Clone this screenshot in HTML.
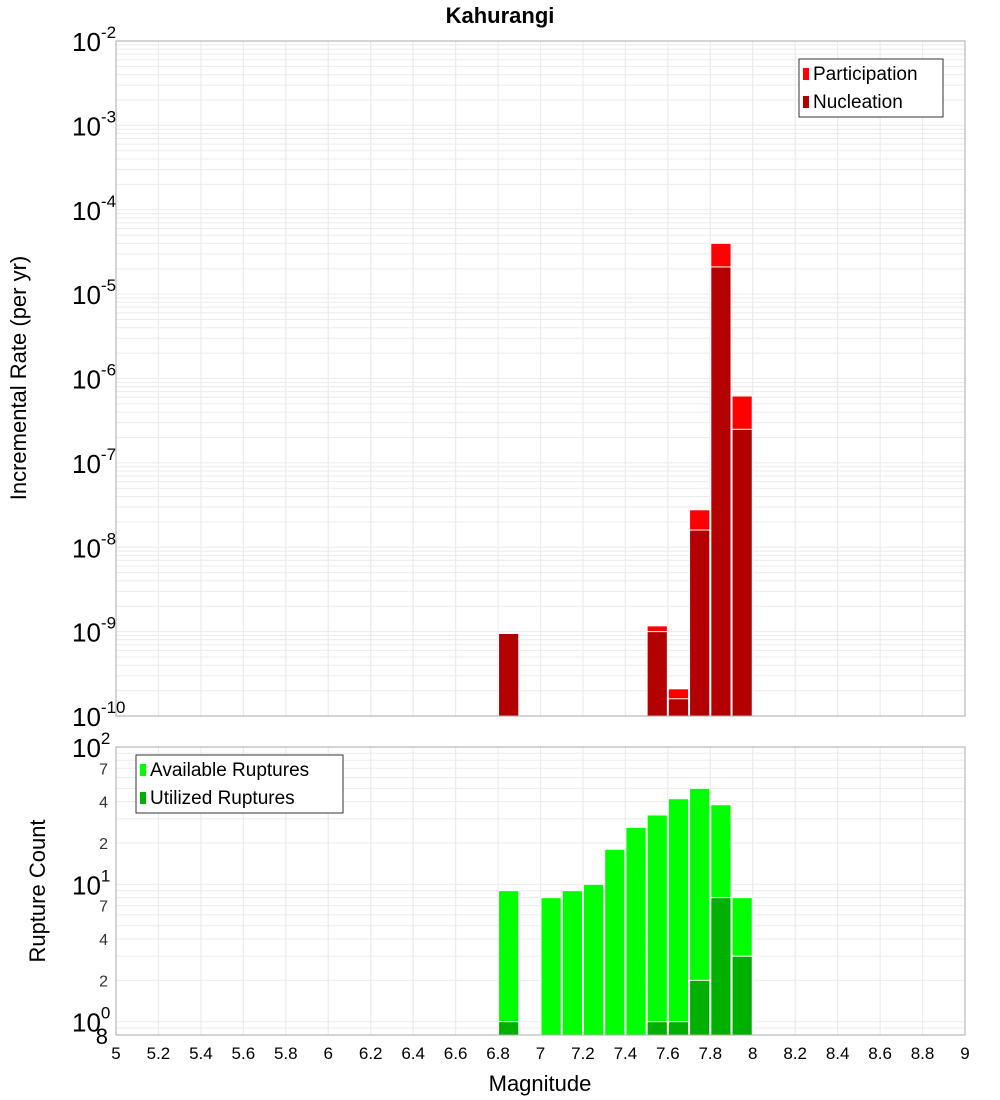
<!DOCTYPE html>
<html><head><meta charset="utf-8"><style>
body{margin:0;background:#fff}
svg{display:block;font-family:"Liberation Sans","DejaVu Sans",sans-serif}
</style></head><body>
<svg id="c" width="1000" height="1100" xmlns="http://www.w3.org/2000/svg">
<text x="500" y="23" text-anchor="middle" font-weight="bold" font-size="22">Kahurangi</text>
<g id="top"></g>
<g id="bot"></g>
<text transform="translate(26,378) rotate(-90)" text-anchor="middle" font-size="22">Incremental Rate (per yr)</text>
<text transform="translate(45,891) rotate(-90)" text-anchor="middle" font-size="22">Rupture Count</text>
<text x="540" y="1091" text-anchor="middle" font-size="22">Magnitude</text>
</svg>
<script>
const mags=[6.85,7.55,7.65,7.75,7.85,7.95];
const participation=[9.6e-10,1.17e-9,2.1e-10,2.78e-8,4.0e-5,6.2e-7];
const nucleation=[9.5e-10,1.0e-9,1.6e-10,1.6e-8,2.1e-5,2.5e-7];
const countMags=[6.85,7.05,7.15,7.25,7.35,7.45,7.55,7.65,7.75,7.85,7.95];
const available=[9,8,9,10,18,26,32,42,50,38,8];
const utilized=[1,0,0,0,0,0,1,1,2,8,3];
const xTicks=[5,5.2,5.4,5.6,5.8,6,6.2,6.4,6.6,6.8,7,7.2,7.4,7.6,7.8,8,8.2,8.4,8.6,8.8,9];
const topExps=[-2,-3,-4,-5,-6,-7,-8,-9,-10];
const NS="http://www.w3.org/2000/svg";
const svg=document.getElementById('c');
function el(tag,attrs,parent,txt){const e=document.createElementNS(NS,tag);for(const k in attrs)e.setAttribute(k,attrs[k]);if(txt!==undefined)e.textContent=txt;(parent||svg).appendChild(e);return e;}
const X0=116,X1=965;
const xs=m=>X0+(m-5)/4*(X1-X0);
const T0=41,T1=716;
const yTop=v=>T0+(-2-Math.log10(v))*(T1-T0)/8;
const B0=747,B1=1035;
const bDec=(B1-B0)/(2-Math.log10(0.8));
const yBot=v=>B0+(2-Math.log10(v))*bDec;
const gTop=document.getElementById('top'),gBot=document.getElementById('bot');
function grid(g,y0,y1,yf,lo,hi){
 for(let d=lo;d<hi;d++)for(let k=1;k<10;k++){const v=k*Math.pow(10,d);const y=yf(v);if(y<y0-0.5||y>y1+0.5)continue;
  const l=el('line',{x1:X0,x2:X1,y1:y,y2:y,stroke:'#ebebeb','stroke-width':1},g);
  
  }
 xTicks.forEach(t=>{const l=el('line',{x1:xs(t),x2:xs(t),y1:y0,y2:y1,stroke:'#ebebeb','stroke-width':1},g);
  
  });
}
grid(gTop,T0,T1,yTop,-10,-2);grid(gTop,T0,T1,yTop,-2,-1);
grid(gBot,B0,B1,yBot,-1,2);grid(gBot,B0,B1,yBot,2,3);
const bw=(X1-X0)/40;
function bar(g,m,v,yf,base,fill,name){const y=yf(v);const r=el('rect',{x:xs(m)-bw/2+0.5,y:y,width:bw-1,height:base-y,fill:fill,stroke:'#fff','stroke-width':1},g);
 
 }
mags.forEach((m,i)=>{bar(gTop,m,participation[i],yTop,T1,'#ff0000','bar-participation');});
mags.forEach((m,i)=>{bar(gTop,m,nucleation[i],yTop,T1,'#b30000','bar-nucleation');});
countMags.forEach((m,i)=>{if(available[i]>0)bar(gBot,m,available[i],yBot,B1,'#00ff00','bar-available');});
countMags.forEach((m,i)=>{if(utilized[i]>0)bar(gBot,m,utilized[i],yBot,B1,'#00b000','bar-utilized');});
el('rect',{x:X0,y:T0,width:X1-X0,height:T1-T0,fill:'none',stroke:'#aaa','stroke-width':1},gTop);
el('rect',{x:X0,y:B0,width:X1-X0,height:B1-B0,fill:'none',stroke:'#aaa','stroke-width':1},gBot);
function pow10(g,x,y,e,name){const t=el('text',{x:x,y:y,'font-size':26,'text-anchor':'start'},g);
 
 
 t.appendChild(document.createTextNode('10'));
 const s=document.createElementNS(NS,'tspan');s.setAttribute('dy','-13');s.setAttribute('font-size','17');s.textContent=e;t.appendChild(s);}
topExps.forEach(e=>{pow10(gTop,e<=-10?72:72,yTop(Math.pow(10,e))+10,e,'y-tick-label');});
[2,1,0].forEach(e=>{pow10(gBot,e===0?72:72,yBot(Math.pow(10,e))+10,e,'y-tick-label');});
[[70,'7'],[40,'4'],[20,'2'],[7,'7'],[4,'4'],[2,'2'],[0.8,'8']].forEach(([v,s])=>{
 const t=el('text',{x:v===0.8?108:108,y:yBot(v)+(v===0.8?9:6),'font-size':v===0.8?22:16,'text-anchor':'end',fill:v===0.8?'#000':'#333'},gBot,s);
 
 });
xTicks.forEach(t=>{const tx=el('text',{x:xs(t),y:1059,'font-size':17,'text-anchor':'middle'},svg,String(t));
 
 });
function legend(x,y,w,items){const g=el('g',{});
 
 
 el('rect',{x:x,y:y,width:w,height:58,fill:'#fff',stroke:'#333','stroke-width':1},g);
 items.forEach(([c,l],i)=>{el('rect',{x:x+4,y:y+9+i*28,width:6,height:12,fill:c},g);
  const t=el('text',{x:x+14,y:y+21+i*28,'font-size':19},g,l);
  
  });}
legend(799,59,144,[['#ff0000','Participation'],['#b30000','Nucleation']]);
legend(136,755,207,[['#00ff00','Available Ruptures'],['#00b000','Utilized Ruptures']]);
</script>
</body></html>
